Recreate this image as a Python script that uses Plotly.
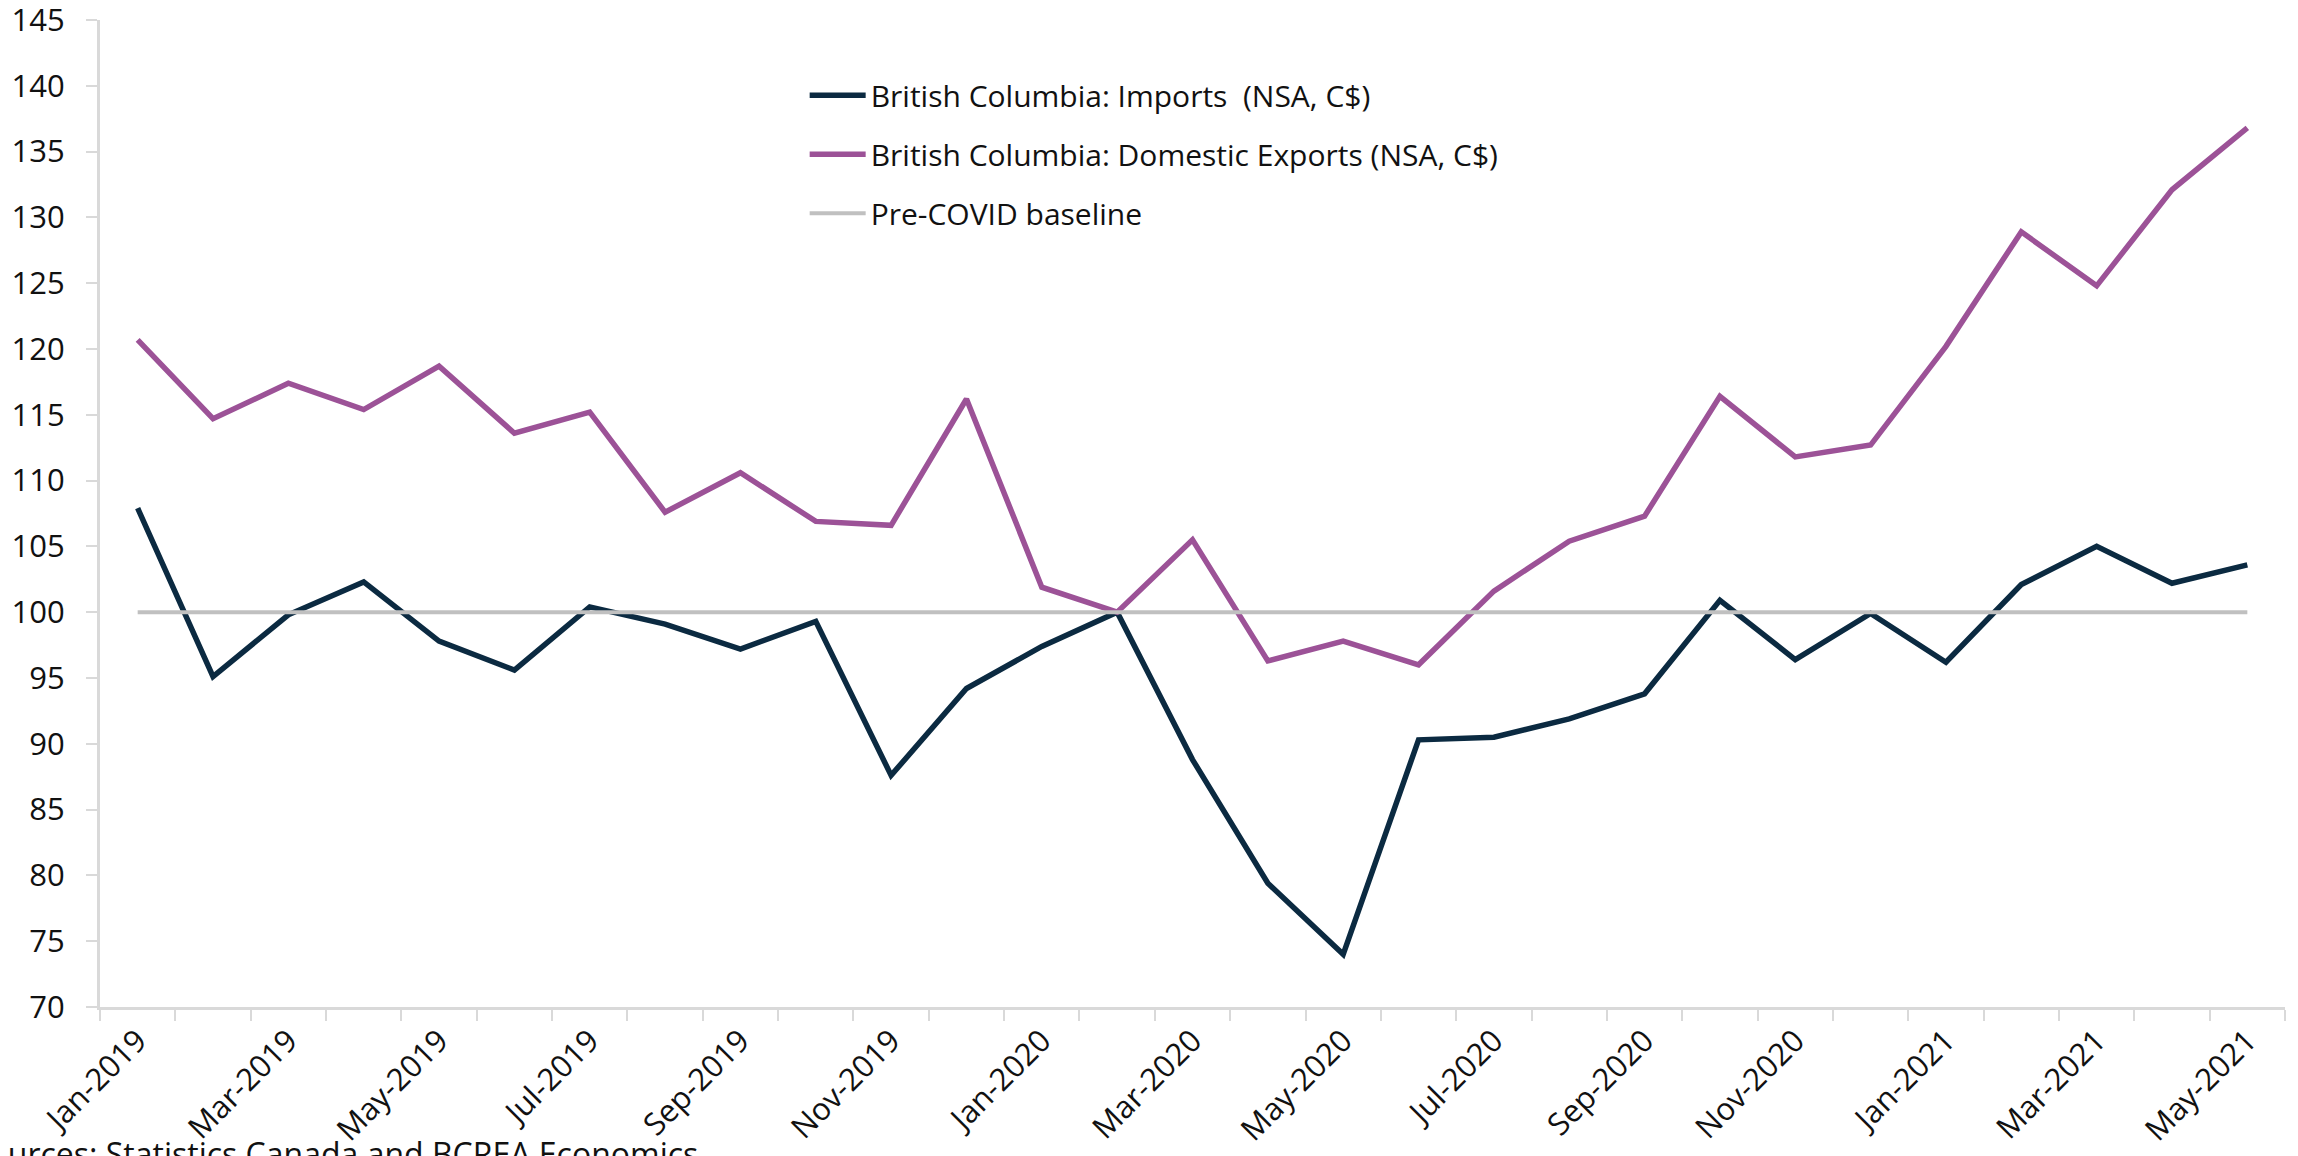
import plotly.graph_objects as go

months = ["Jan-2019", "Feb-2019", "Mar-2019", "Apr-2019", "May-2019", "Jun-2019",
          "Jul-2019", "Aug-2019", "Sep-2019", "Oct-2019", "Nov-2019", "Dec-2019",
          "Jan-2020", "Feb-2020", "Mar-2020", "Apr-2020", "May-2020", "Jun-2020",
          "Jul-2020", "Aug-2020", "Sep-2020", "Oct-2020", "Nov-2020", "Dec-2020",
          "Jan-2021", "Feb-2021", "Mar-2021", "Apr-2021", "May-2021"]

tick_labels = ["Jan-2019", "Mar-2019", "May-2019", "Jul-2019", "Sep-2019", "Nov-2019",
               "Jan-2020", "Mar-2020", "May-2020", "Jul-2020", "Sep-2020", "Nov-2020",
               "Jan-2021", "Mar-2021", "May-2021"]

y_ticks = [70, 75, 80, 85, 90, 95, 100, 105, 110, 115, 120, 125, 130, 135, 140, 145]

imports = [107.9, 95.1, 99.8, 102.3, 97.8, 95.6, 100.4, 99.1, 97.2, 99.3, 87.6, 94.2,
           97.4, 100.0, 88.8, 79.4, 74.0, 90.3, 90.5, 91.9, 93.8, 100.9, 96.4, 99.9,
           96.2, 102.1, 105.0, 102.2, 103.6]

exports = [120.7, 114.7, 117.4, 115.4, 118.7, 113.6, 115.2, 107.6, 110.6, 106.9, 106.6, 116.2,
           101.9, 100.0, 105.5, 96.3, 97.8, 96.0, 101.6, 105.4, 107.3, 116.4, 111.8, 112.7,
           120.2, 128.9, 124.8, 132.1, 136.8]

baseline = [100.0] * len(months)

FONT = "Open Sans"
TXT = "#111111"
fig = go.Figure()
fig.add_trace(go.Scatter(x=months, y=imports, mode="lines",
                         name="British Columbia: Imports  (NSA, C$)", legendgroup="a",
                         line=dict(color="#0b2a41", width=5.5)))
fig.add_trace(go.Scatter(x=months, y=exports, mode="lines",
                         name="British Columbia: Domestic Exports (NSA, C$)", legendgroup="b",
                         line=dict(color="#9c5297", width=5.5)))
fig.add_trace(go.Scatter(x=months, y=baseline, mode="lines",
                         name="Pre-COVID baseline", legendgroup="c",
                         line=dict(color="#c0c0c0", width=4)))

fig.update_layout(
    width=2290, height=1148,
    margin=dict(l=92, r=13, t=12, b=149, autoexpand=False),
    paper_bgcolor="white", plot_bgcolor="white",
    font=dict(family=FONT, size=31, color=TXT),
    showlegend=True,
    legend=dict(x=0.3225, y=0.950, xanchor="left", yanchor="top",
                font=dict(family=FONT, size=30, color=TXT),
                bgcolor="rgba(0,0,0,0)", tracegroupgap=17, itemwidth=56),
    annotations=[dict(text="Sources: Statistics Canada and BCREA Economics",
                      xref="paper", yref="paper", x=0.2746, y=-0.1245,
                      xanchor="right", yanchor="top", showarrow=False,
                      font=dict(family=FONT, size=32, color=TXT))],
)

fig.update_xaxes(
    type="category", categoryorder="array", categoryarray=months,
    tickvals=months,
    ticktext=[m if m in tick_labels else "" for m in months],
    tickson="boundaries", ticks="outside", ticklen=11, tickwidth=2, tickcolor="#d9d9d9",
    tickangle=-45, showline=True, linecolor="#d9d9d9", linewidth=3,
    showgrid=False, zeroline=False, range=[-0.5, len(months) - 0.5],
    automargin=False,
    tickfont=dict(family=FONT, size=31, color=TXT),
)
fig.update_yaxes(
    range=[70, 145], tickvals=y_ticks, ticktext=[str(v) for v in y_ticks],
    ticks="outside", ticklen=11, tickwidth=2, tickcolor="#d9d9d9",
    showline=True, linecolor="#d9d9d9", linewidth=3,
    showgrid=False, zeroline=False, ticklabelstandoff=15,
    ticklabeloverflow="allow", automargin=False,
    tickfont=dict(family=FONT, size=31, color=TXT),
)

fig.write_html("out.html")
